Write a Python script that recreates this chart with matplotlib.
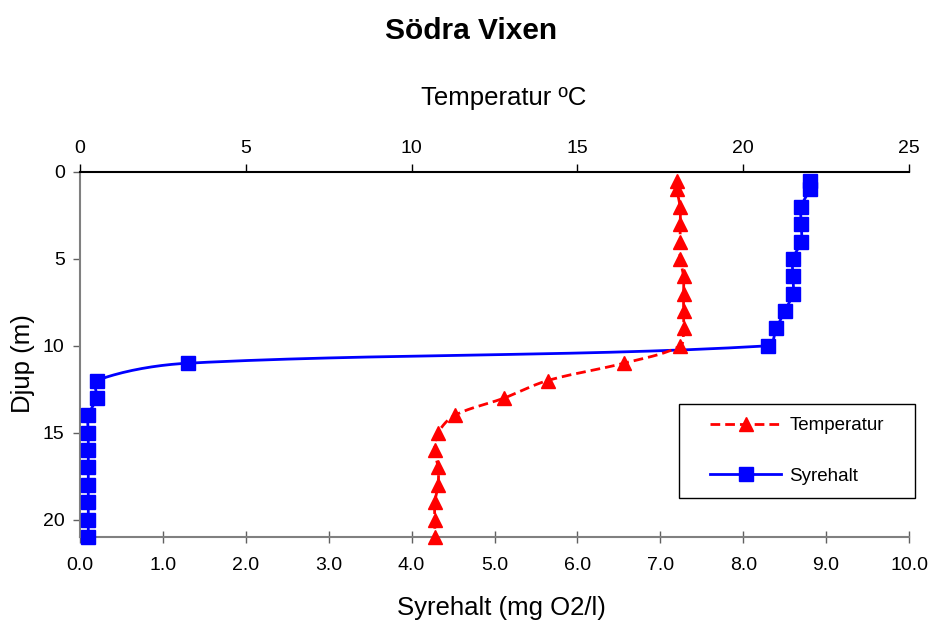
import numpy as np
import matplotlib
matplotlib.use("Agg")
import matplotlib.pyplot as plt
from matplotlib.ticker import FormatStrFormatter, MultipleLocator
from matplotlib.patches import Rectangle

plt.rcParams['font.family'] = ['Liberation Sans', 'DejaVu Sans']

depth = [0.5, 1, 2, 3, 4, 5, 6, 7, 8, 9, 10, 11, 12, 13, 14, 15, 16, 17, 18, 19, 20, 21]
temperature = [18.0, 18.0, 18.1, 18.1, 18.1, 18.1, 18.2, 18.2, 18.2, 18.2, 18.1, 16.4,
               14.1, 12.8, 11.3, 10.8, 10.7, 10.8, 10.8, 10.7, 10.7, 10.7]
oxygen = [8.8, 8.8, 8.7, 8.7, 8.7, 8.6, 8.6, 8.6, 8.5, 8.4, 8.3, 1.3,
          0.2, 0.2, 0.1, 0.1, 0.1, 0.1, 0.1, 0.1, 0.1, 0.1]

title = "Södra Vixen"
top_label = "Temperatur ºC"
bottom_label = "Syrehalt (mg O2/l)"
y_label = "Djup (m)"
legend_labels = ["Temperatur", "Syrehalt"]


def smooth_display(axis, x, y, n=30):
    """Excel-like smoothed line: chord-length weighted Bezier in display space."""
    tr = axis.transData
    P = tr.transform(np.column_stack([x, y]).astype(float))
    m = len(P)
    d = np.linalg.norm(np.diff(P, axis=0), axis=1)
    out = [P[0]]
    t = np.linspace(0, 1, n)[1:]
    for i in range(m - 1):
        p1, p2 = P[i], P[i + 1]
        p0 = P[i - 1] if i > 0 else P[i]
        p3 = P[i + 2] if i + 2 < m else P[i + 1]
        d01 = d[i - 1] if i > 0 else 0.0
        d12 = d[i]
        d23 = d[i + 1] if i + 1 < m - 1 else 0.0
        w1 = d12 / (d01 + d12) if (d01 + d12) > 0 else 0
        w2 = d12 / (d12 + d23) if (d12 + d23) > 0 else 0
        c1 = p1 + (p2 - p0) * w1 / 3.0
        c2 = p2 - (p3 - p1) * w2 / 3.0
        tt = t[:, None]
        seg = ((1 - tt) ** 3) * p1 + 3 * ((1 - tt) ** 2) * tt * c1 \
            + 3 * (1 - tt) * tt ** 2 * c2 + tt ** 3 * p2
        out.extend(seg)
    out = tr.inverted().transform(np.array(out))
    return out[:, 0], out[:, 1]


W, H = 931, 626
fig = plt.figure(figsize=(W / 100, H / 100), dpi=100)
ax = fig.add_axes([80 / W, 1 - 537 / H, 829 / W, 365 / H])
ax2 = ax.twiny()

ax.set_xlim(0, 10)
ax2.set_xlim(0, 25)
ax.set_ylim(21, 0)
ax2.set_ylim(21, 0)

red = '#ff0000'
blue = '#0000ff'
dash = (0, (3.5, 1.8))

# temperature (top axis)
tx, ty = smooth_display(ax2, temperature, depth)
ax2.plot(tx, ty, color=red, linestyle=dash, linewidth=2, clip_on=False, zorder=3)
ax2.plot(temperature, depth, linestyle='none', marker='^', markersize=10,
         color=red, clip_on=False, zorder=4)

# oxygen (bottom axis)
sx, sy = smooth_display(ax, oxygen, depth)
ax.plot(sx, sy, color=blue, linewidth=2, clip_on=False, zorder=3)
ax.plot(oxygen, depth, linestyle='none', marker='s', markersize=9.5,
        color=blue, clip_on=False, zorder=4)

# legend box + entries
ax2.add_patch(Rectangle((679 / W, 1 - 498 / H), 236 / W, 94 / H,
                        transform=fig.transFigure, facecolor='white',
                        edgecolor='black', linewidth=1.0, zorder=9, clip_on=False))
lt, = ax2.plot([], [], color=red, linestyle=dash, linewidth=2,
               marker='^', markersize=10)
lo, = ax2.plot([], [], color=blue, linewidth=2, marker='s', markersize=9.5)
leg = ax2.legend([lt, lo], legend_labels,
                 loc='center', bbox_to_anchor=(797 / W, 1 - 451 / H),
                 bbox_transform=fig.transFigure, fontsize=13.5, frameon=False,
                 labelspacing=1.8, handlelength=3.8, handletextpad=0.45,
                 borderpad=0, borderaxespad=0)
leg.set_zorder(11)

# ticks
ax.xaxis.set_major_locator(MultipleLocator(1))
ax.xaxis.set_major_formatter(FormatStrFormatter('%.1f'))
ax2.xaxis.set_major_locator(MultipleLocator(5))
ax.yaxis.set_major_locator(MultipleLocator(5))

for a in (ax, ax2):
    a.spines['right'].set_visible(False)
ax.spines['top'].set_visible(False)
ax2.spines['left'].set_visible(False)
ax2.spines['bottom'].set_visible(False)
ax.spines['bottom'].set_color('#808080')
ax.spines['bottom'].set_linewidth(1.5)
ax.spines['left'].set_color('#808080')
ax.spines['left'].set_linewidth(1.5)
ax2.spines['top'].set_color('black')
ax2.spines['top'].set_linewidth(1.5)

ax.tick_params(axis='x', direction='inout', length=9, width=1, color='#606060',
               labelsize=14, labelcolor='black', pad=10)
ax.tick_params(axis='y', direction='out', length=5, width=1, color='#606060',
               labelsize=14, labelcolor='black', pad=6)
ax2.tick_params(axis='x', direction='out', length=6, width=1, color='black',
                labelsize=14, labelcolor='black', pad=5)

# labels
fig.text(471 / W, 1 - 31 / H, title, ha='center', va='center', fontsize=21.5,
         fontweight='bold')
fig.text(504 / W, 1 - 98 / H, top_label, ha='center', va='center', fontsize=18.5)
fig.text(501 / W, 1 - 608 / H, bottom_label, ha='center', va='center', fontsize=18.5)
fig.text(23 / W, 1 - 364 / H, y_label, ha='center', va='center', fontsize=18.5,
         rotation=90)

fig.savefig('out.png', dpi=100)
